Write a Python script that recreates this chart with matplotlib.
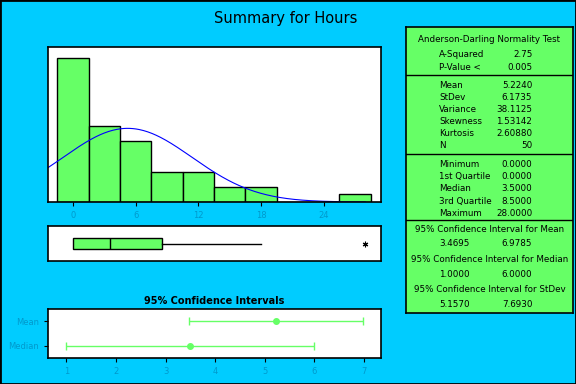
import numpy as np
import matplotlib
matplotlib.use("Agg")
import matplotlib.pyplot as plt
from matplotlib.patches import Rectangle

BG = "#00CCFF"
GREEN = "#66FF66"
TICK = "#0099CC"

# histogram (bins of width 3 centred on 0, 3, ..., 27)
bin_centers = [0, 3, 6, 9, 12, 15, 18, 21, 24, 27]
bin_counts = [19, 10, 8, 4, 4, 2, 2, 0, 0, 1]
hist_ticks = [0, 6, 12, 18, 24]

# summary stats
n_obs = 50
mean = 5.2240
stdev = 6.1735
q1, median, q3 = 0.0, 3.5, 8.5
whisker_hi = 18
outliers = [28]

ci_labels = ["Median", "Mean"]
ci_centers = [3.5, 5.224]
ci_low = [1.0, 3.4695]
ci_high = [6.0, 6.9785]

ad_rows = [("A-Squared", "2.75"), ("P-Value <", "0.005")]
desc_rows = [("Mean", "5.2240"), ("StDev", "6.1735"), ("Variance", "38.1125"),
             ("Skewness", "1.53142"), ("Kurtosis", "2.60880"), ("N", "50")]
quant_rows = [("Minimum", "0.0000"), ("1st Quartile", "0.0000"), ("Median", "3.5000"),
              ("3rd Quartile", "8.5000"), ("Maximum", "28.0000")]
ci_rows = [("95% Confidence Interval for Mean", "3.4695", "6.9785"),
           ("95% Confidence Interval for Median", "1.0000", "6.0000"),
           ("95% Confidence Interval for StDev", "5.1570", "7.6930")]

W, H = 576, 384
fig = plt.figure(figsize=(5.76, 3.84), dpi=100, facecolor=BG)


def px_axes(x0, y0, x1, y1):
    return fig.add_axes([x0 / W, 1 - y1 / H, (x1 - x0) / W, (y1 - y0) / H])


def style(ax):
    for s in ax.spines.values():
        s.set_linewidth(1.2)
        s.set_color("black")
    ax.tick_params(axis="both", colors="black", labelcolor=TICK, labelsize=6, length=3, width=0.8)


fig.text(286 / W, 1 - 18 / H, "Summary for Hours", ha="center", va="center", fontsize=10.5)

# histogram
ax = px_axes(48, 47, 381, 202)
style(ax)
ax.bar(bin_centers, bin_counts, width=3, color=GREEN, edgecolor="black", linewidth=1)
xs = np.linspace(-2.4, 28, 300)
pdf = np.exp(-0.5 * ((xs - mean) / stdev) ** 2) / (stdev * np.sqrt(2 * np.pi))
ax.plot(xs, n_obs * 3 * pdf, color="blue", lw=0.8)
ax.set_xlim(-2.4, 29.5)
ax.set_ylim(0, 20.4)
ax.set_xticks(hist_ticks)
ax.set_yticks([])

# boxplot
axb = px_axes(48, 226, 381, 261)
style(axb)
axb.bxp([{"med": median, "q1": q1, "q3": q3, "whislo": q1, "whishi": whisker_hi, "fliers": outliers}],
        vert=False, widths=0.34, showcaps=False, patch_artist=True,
        boxprops=dict(facecolor=GREEN, edgecolor="black", linewidth=1),
        medianprops=dict(color="black", linewidth=1),
        whiskerprops=dict(color="black", linewidth=1),
        flierprops=dict(marker=(6, 2, 0), markersize=4, markeredgecolor="black", markeredgewidth=0.8))
axb.set_xlim(-2.4, 29.5)
axb.set_ylim(0.5, 1.5)
axb.set_xticks([])
axb.set_yticks([])

# confidence intervals
axc = px_axes(48, 309, 381, 358)
style(axc)
ypos = [1, 2]
err = [np.array(ci_centers) - np.array(ci_low), np.array(ci_high) - np.array(ci_centers)]
axc.errorbar(ci_centers, ypos, xerr=err, fmt="o", color=GREEN, ecolor=GREEN,
             markersize=4, capsize=3, elinewidth=1, capthick=1)
axc.set_xlim(0.63, 7.34)
axc.set_ylim(0.5, 2.5)
axc.set_yticks(ypos)
axc.set_yticklabels(ci_labels)
axc.set_xticks(range(1, 8))
fig.text(214 / W, 1 - 301 / H, "95% Confidence Intervals", ha="center", va="center",
         fontsize=7, fontweight="bold")

# stats panel
axs = px_axes(405.7, 26.7, 573.3, 313.3)
axs.set_facecolor(GREEN)
axs.set_xlim(405.7, 573.3)
axs.set_ylim(313.3, 26.7)
axs.set_xticks([])
axs.set_yticks([])
for s in axs.spines.values():
    s.set_linewidth(1.2)
for y in [75.3, 154.3, 220]:
    axs.axhline(y, color="black", lw=1)

fs = 6.3
cx = 489.5
lx, rx = 439.3, 532.3
axs.text(cx, 40, "Anderson-Darling Normality Test", ha="center", va="center", fontsize=fs)
for (lab, val), y in zip(ad_rows, [54.3, 67.3]):
    axs.text(lx, y, lab, ha="left", va="center", fontsize=fs)
    axs.text(rx, y, val, ha="right", va="center", fontsize=fs)
for i, (lab, val) in enumerate(desc_rows):
    y = 85.7 + i * 12.05
    axs.text(lx, y, lab, ha="left", va="center", fontsize=fs)
    axs.text(rx, y, val, ha="right", va="center", fontsize=fs)
for i, (lab, val) in enumerate(quant_rows):
    y = 164.3 + i * 12.25
    axs.text(lx, y, lab, ha="left", va="center", fontsize=fs)
    axs.text(rx, y, val, ha="right", va="center", fontsize=fs)
for i, (lab, lo, hi) in enumerate(ci_rows):
    y = 229 + i * 30.2
    axs.text(cx, y, lab, ha="center", va="center", fontsize=fs)
    axs.text(lx, y + 15, lo, ha="left", va="center", fontsize=fs)
    axs.text(rx, y + 15, hi, ha="right", va="center", fontsize=fs)

fig.add_artist(Rectangle((0, 0), 1, 1, transform=fig.transFigure, fill=False,
                         edgecolor="black", linewidth=2))

fig.savefig("out.png", dpi=100, facecolor=BG)
